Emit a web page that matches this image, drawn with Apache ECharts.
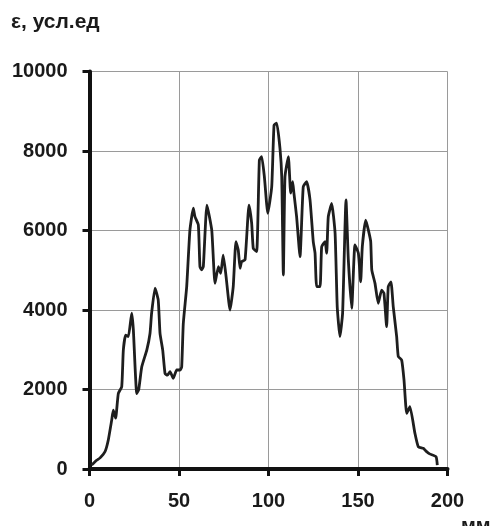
<!DOCTYPE html>
<html>
<head>
<meta charset="utf-8">
<script src="https://cdn.jsdelivr.net/npm/echarts@6/dist/echarts.min.js"></script>
<style>
  html, body { margin: 0; padding: 0; background: #ffffff; }
  #chart { width: 493px; height: 526px; }
</style>
</head>
<body>
<div id="chart"></div>
<script>
// Position along the sample, mm
const positionMm = [
  1.2, 4, 5.9, 8.7, 10.5, 12.4, 13.3, 14.6, 16.1, 18, 18.9, 20.2, 21.7, 23.6, 24.5,
  26.4, 27.5, 29.2, 32, 33.8, 34.7, 36.6, 38.4, 39.4, 40.9, 42.2, 43.5, 45, 46.8,
  48.7, 50.6, 51.5, 52.4, 54.3, 56.1, 58, 58.9, 60.8, 61.7, 62.7, 63.6, 65.6, 68.3,
  70.1, 72, 73.3, 74.7, 76.3, 78.5, 80.3, 81.8, 83.1, 84.1, 85, 86.9, 89.1, 90.6,
  91.5, 93.4, 94.9, 96.2, 97.7, 99.6, 101.8, 103.1, 104.6, 106.4, 107.4, 108.3,
  109.2, 111.1, 112.4, 113.5, 114.2, 115.7, 117.6, 119.4, 121.3, 123.2, 125, 126,
  126.9, 128.8, 129.7, 131.6, 132.5, 133.4, 135.3, 137.2, 138.4, 139.9, 141.4,
  143.3, 144.6, 146.5, 148.3, 150.2, 151.5, 152.4, 154.3, 155.8, 157.1, 157.7,
  159.5, 161.3, 163.2, 164.5, 166, 166.9, 168.4, 169.7, 171.6, 172.5, 174.4, 175.7,
  177.2, 179, 181.8, 183.7, 186.5, 188, 190, 193.6, 194.3
];

// Signal, arbitrary units
const epsilon = [
  100, 220, 280, 440, 730, 1230, 1480, 1280, 1900, 2070, 2990, 3370, 3330, 3920, 3500,
  1900, 2000, 2570, 2990, 3410, 3920, 4550, 4250, 3410, 2990, 2400, 2360, 2450, 2280,
  2490, 2490, 2570, 3660, 4590, 6010, 6560, 6350, 6140, 5090, 5010, 5100, 6640, 6010,
  4670, 5090, 4920, 5380, 4840, 4000, 4590, 5720, 5510, 5050, 5220, 5260, 6640, 6180,
  5550, 5470, 7770, 7860, 7350, 6430, 7100, 8650, 8700, 8070, 7350, 4880,
  7350, 7860, 6940, 7230, 6940, 6350, 5340, 7100, 7230, 6770, 5720, 5430,
  4590, 4590, 5590, 5720, 5430, 6350, 6680, 5930, 4080, 3330, 3920,
  6770, 5260, 4040, 5640, 5430, 4710, 5590, 6260, 6010, 5720, 5010,
  4670, 4170, 4500, 4420, 3580, 4590, 4710, 4080, 3330, 2830, 2740, 2240,
  1400, 1570, 900, 560, 520, 450, 380, 310, 100
];

const xTicks = { min: 0, max: 200, interval: 50 };
const yTicks = { min: 0, max: 10000, interval: 2000 };
const yTitle = 'ε, усл.ед';
const xTitle = 'мм';

const points = positionMm.map((x, i) => [x, epsilon[i]]);

const FONT = '"Liberation Sans", Arial, sans-serif';
const plain = v => String(v);
const chart = echarts.init(document.getElementById('chart'), null, { renderer: 'canvas' });

chart.setOption({
  backgroundColor: '#ffffff',
  animation: false,
  grid: { left: 89.5, right: 45.5, top: 71.5, bottom: 57, containLabel: false },
  xAxis: {
    type: 'value',
    min: xTicks.min, max: xTicks.max, interval: xTicks.interval,
    axisLine: { show: true, onZero: false, lineStyle: { color: '#111', width: 4 } },
    axisTick: { show: true, length: 7, lineStyle: { color: '#111', width: 3 } },
    axisLabel: { margin: 22, formatter: plain, color: '#1a1a1a', fontFamily: FONT, fontWeight: 'bold', fontSize: 20 },
    splitLine: { show: true, lineStyle: { color: '#9a9a9a', width: 1 } }
  },
  yAxis: {
    type: 'value',
    min: yTicks.min, max: yTicks.max, interval: yTicks.interval,
    axisLine: { show: true, lineStyle: { color: '#111', width: 4 } },
    axisTick: { show: true, length: 7, lineStyle: { color: '#111', width: 3 } },
    axisLabel: { margin: 22, formatter: plain, color: '#1a1a1a', fontFamily: FONT, fontWeight: 'bold', fontSize: 20 },
    splitLine: { show: true, lineStyle: { color: '#9a9a9a', width: 1 } }
  },
  graphic: [
    { type: 'text', left: 11, top: 12,
      style: { text: yTitle, fill: '#1a1a1a', font: 'bold 21px ' + FONT } },
    { type: 'text', left: 461, top: 516,
      style: { text: xTitle, fill: '#1a1a1a', font: 'bold 20px ' + FONT } }
  ],
  series: [{
    type: 'line',
    data: points,
    showSymbol: false,
    smooth: 0.15,
    lineStyle: { color: '#1e1e1e', width: 2.8 },
    z: 5
  }]
});
</script>
</body>
</html>
